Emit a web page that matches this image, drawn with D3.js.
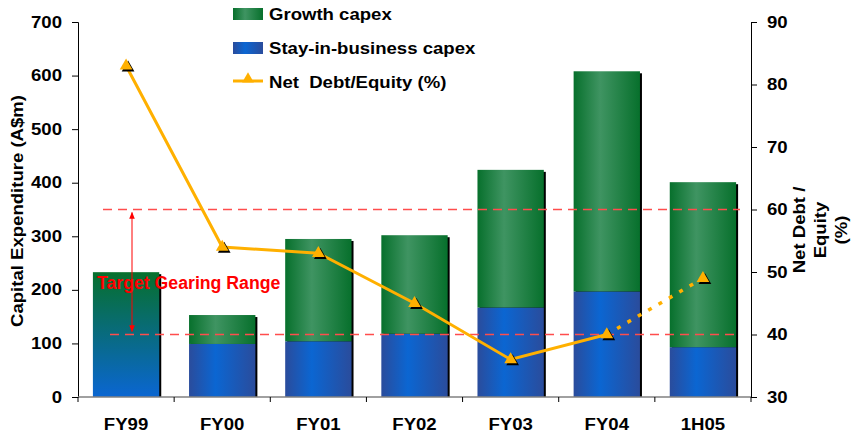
<!DOCTYPE html>
<html>
<head>
<meta charset="utf-8">
<script src="https://cdn.jsdelivr.net/npm/d3@7"></script>
<style>
  body { margin: 0; background: #fff; }
  text { font-family: Arial, "Liberation Sans", sans-serif; font-weight: bold; }
</style>
</head>
<body>
<script>
// data
var categories = ["FY99", "FY00", "FY01", "FY02", "FY03", "FY04", "1H05"];
var stayCapex   = [null, 99, 104, 118, 167, 197, 93];
var growthCapex = [null, 54, 191, 184, 257, 411, 308];
var totalCapex  = [233, 153, 295, 302, 424, 608, 401];   // FY99 shown only as a total
var netDebtEquity = [83, 54, 53, 45, 36, 40, 49];
var gearingRange = [40, 60];
var leftTicks = [0, 100, 200, 300, 400, 500, 600, 700];
var rightTicks = [30, 40, 50, 60, 70, 80, 90];

// layout
var W = 854, H = 434;
var x0 = 78, x1 = 751, yTop = 22, yBot = 397;
var FS = "16px", WIDEN = 1.16;

var svg = d3.select("body").append("svg").attr("width", W).attr("height", H);
var defs = svg.append("defs");

function hGrad(id, edge, mid) {
  var g = defs.append("linearGradient").attr("id", id).attr("x1", "0").attr("x2", "1").attr("y1", "0").attr("y2", "0");
  g.append("stop").attr("offset", "0%").attr("stop-color", edge);
  g.append("stop").attr("offset", "40%").attr("stop-color", mid);
  g.append("stop").attr("offset", "100%").attr("stop-color", edge);
}
hGrad("gGreen", "#07702c", "#3f9462");
hGrad("gBlue", "#2a4c9c", "#0b66d2");
var vg = defs.append("linearGradient").attr("id", "gMix").attr("x1", "0").attr("x2", "0").attr("y1", "0").attr("y2", "1");
vg.append("stop").attr("offset", "0%").attr("stop-color", "#07702c");
vg.append("stop").attr("offset", "100%").attr("stop-color", "#0a66d2");

var mk = defs.append("marker").attr("id", "arr").attr("viewBox", "0 0 10 10").attr("refX", 9).attr("refY", 5)
  .attr("markerWidth", 7).attr("markerHeight", 7).attr("orient", "auto-start-reverse");
mk.append("path").attr("d", "M0,1L10,5L0,9Z").attr("fill", "#ff0000");

var x = d3.scaleBand().domain(categories).range([x0, x1]).paddingInner(0.31).paddingOuter(0.155);
var y = d3.scaleLinear().domain([0, 700]).range([yBot, yTop]);
var y2 = d3.scaleLinear().domain([30, 90]).range([yBot, yTop]);

// bars
var bars = svg.append("g");
categories.forEach(function(c, i) {
  var bx = x(c), bw = x.bandwidth();
  // shadow
  bars.append("rect").attr("x", bx + 2).attr("y", y(totalCapex[i]) + 2)
    .attr("width", bw).attr("height", yBot - y(totalCapex[i]) - 2).attr("fill", "#000");
  if (stayCapex[i] == null) {
    bars.append("rect").attr("x", bx).attr("y", y(totalCapex[i]))
      .attr("width", bw).attr("height", yBot - y(totalCapex[i])).attr("fill", "url(#gMix)");
  } else {
    bars.append("rect").attr("x", bx).attr("y", y(stayCapex[i]))
      .attr("width", bw).attr("height", yBot - y(stayCapex[i])).attr("fill", "url(#gBlue)");
    bars.append("rect").attr("x", bx).attr("y", y(stayCapex[i] + growthCapex[i]))
      .attr("width", bw).attr("height", y(stayCapex[i]) - y(stayCapex[i] + growthCapex[i])).attr("fill", "url(#gGreen)");
  }
});

// gearing range lines
gearingRange.forEach(function(v, i) {
  svg.append("line").attr("x1", i == 1 ? 103 : 110).attr("x2", 740)
    .attr("y1", y2(v)).attr("y2", y2(v))
    .attr("stroke", "#ff4d4d").attr("stroke-width", 1.5).attr("stroke-dasharray", "9,6");
});
svg.append("line").attr("x1", 132).attr("x2", 132).attr("y1", y2(gearingRange[1]) + 3).attr("y2", y2(gearingRange[0]) - 3)
  .attr("stroke", "#ff0000").attr("stroke-width", 1)
  .attr("marker-start", "url(#arr)").attr("marker-end", "url(#arr)");
svg.append("text").attr("class", "tgr").attr("x", 97).attr("y", 289).attr("fill", "#ff0000").style("font-size", "17.5px")
  .text("Target Gearing Range");

// axes
var axL = svg.append("g").attr("transform", "translate(" + x0 + ",0)")
  .call(d3.axisLeft(y).tickValues(leftTicks).tickSize(6).tickPadding(10));
var axR = svg.append("g").attr("transform", "translate(" + x1 + ",0)")
  .call(d3.axisRight(y2).tickValues(rightTicks).tickSize(6).tickPadding(10));
[axL, axR].forEach(function(a) {
  a.select(".domain").attr("stroke", "#000");
  a.selectAll(".tick line").attr("stroke", "#000");
  a.selectAll("text").style("font-size", FS).attr("fill", "#000").attr("font-family", null);
});

// x axis
svg.append("line").attr("x1", x0).attr("x2", x1).attr("y1", yBot).attr("y2", yBot).attr("stroke", "#808080").attr("stroke-width", 1.5);
categories.slice(1).forEach(function(c) {
  var tx = x(c) - x.step() * x.paddingInner() / 2;
  svg.append("line").attr("x1", tx).attr("x2", tx).attr("y1", yBot).attr("y2", yBot + 5).attr("stroke", "#000");
});
svg.append("line").attr("x1", x0).attr("x2", x0).attr("y1", yBot).attr("y2", yBot + 5).attr("stroke", "#000");
svg.append("line").attr("x1", x1).attr("x2", x1).attr("y1", yBot).attr("y2", yBot + 5).attr("stroke", "#000");
svg.selectAll(".xl").data(categories).enter().append("text")
  .attr("x", function(d) { return x(d) + x.bandwidth() / 2; }).attr("y", 430)
  .attr("text-anchor", "middle").style("font-size", FS).text(function(d) { return d; });

// axis titles
svg.append("text").attr("transform", "translate(23,211) rotate(-90)").attr("text-anchor", "middle")
  .style("font-size", FS).text("Capital Expenditure (A$m)");
var rt = svg.append("text").attr("transform", "translate(805,230) rotate(-90)").attr("text-anchor", "middle").style("font-size", FS);
["Net Debt /", "Equity", "(%)"].forEach(function(s, i) {
  rt.append("tspan").attr("x", 0).attr("dy", i == 0 ? 0 : 21).text(s);
});

// net debt / equity line
var pts = categories.map(function(c, i) { return [x(c) + x.bandwidth() / 2, y2(netDebtEquity[i])]; });
var line = d3.line();
svg.append("path").attr("d", line(pts.slice(0, 6))).attr("fill", "none").attr("stroke", "#ffb000").attr("stroke-width", 3);
svg.append("path").attr("d", line(pts.slice(5))).attr("fill", "none").attr("stroke", "#ffb000").attr("stroke-width", 3.5)
  .attr("stroke-dasharray", "4,8");
var tri = d3.symbol().type(d3.symbolTriangle).size(70);
pts.forEach(function(p) {
  svg.append("path").attr("d", tri()).attr("transform", "translate(" + (p[0] + 2) + "," + (p[1] + 2) + ")").attr("fill", "#000");
  svg.append("path").attr("d", tri()).attr("transform", "translate(" + p[0] + "," + p[1] + ")").attr("fill", "#ffb000");
});

// legend
var lg = svg.append("g");
lg.append("rect").attr("x", 233).attr("y", 8).attr("width", 30).attr("height", 12).attr("fill", "url(#gGreen)");
lg.append("rect").attr("x", 233).attr("y", 42).attr("width", 30).attr("height", 12).attr("fill", "url(#gBlue)");
lg.append("line").attr("x1", 233).attr("x2", 263).attr("y1", 81).attr("y2", 81).attr("stroke", "#ffb000").attr("stroke-width", 3);
lg.append("path").attr("d", d3.symbol().type(d3.symbolTriangle).size(60)()).attr("transform", "translate(248,79)").attr("fill", "#ffb000");
[["Growth capex", 20], ["Stay-in-business capex", 54], ["Net  Debt/Equity (%)", 88]].forEach(function(d) {
  lg.append("text").attr("x", 269).attr("y", d[1]).style("font-size", FS).style("white-space", "pre").text(d[0]);
});

// the original lettering is wider than Arial at the same height
function widen(el, f) {
  var len = el.getComputedTextLength();
  d3.select(el).attr("textLength", len * f).attr("lengthAdjust", "spacingAndGlyphs");
}
svg.selectAll("text").each(function() {
  var tspans = d3.select(this).selectAll("tspan");
  if (!tspans.empty()) { tspans.each(function() { widen(this, WIDEN); }); return; }
  widen(this, d3.select(this).classed("tgr") ? 1.01 : WIDEN);
});
</script>
</body>
</html>
